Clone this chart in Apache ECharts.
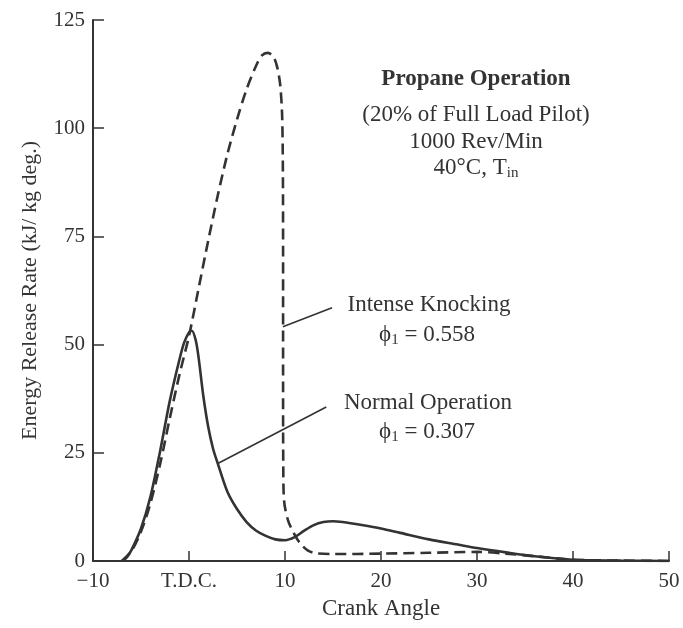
<!DOCTYPE html>
<html>
<head>
<meta charset="utf-8">
<script src="https://cdn.jsdelivr.net/npm/echarts@6/dist/echarts.min.js"></script>
<style>
html,body{margin:0;padding:0;background:#fff;}
#chart{width:683px;height:628px;}
</style>
</head>
<body>
<div id="chart"></div>
<script>
// ---- data ----
const xTicks = [-10, 0, 10, 20, 30, 40, 50];
const yTicks = [0, 25, 50, 75, 100, 125];

const normalX = [-7, -6.5, -6, -5, -4, -3, -2, -1, -0.5, 0, 0.3, 0.7, 1, 1.5, 2, 2.5, 3, 4, 5, 6, 7, 8, 9, 10, 11, 12, 13, 14, 15, 16, 18, 20, 22, 25, 28, 30, 33, 36, 40, 45, 50];
const normalY = [0, 0.8, 2.5, 7.5, 15, 25.5, 37, 46.5, 50.5, 52.8, 53.2, 51, 47, 38, 31, 26, 22.5, 16, 12, 9, 7, 5.8, 5, 4.8, 5.5, 7, 8.3, 9, 9.2, 9, 8.3, 7.5, 6.5, 5, 3.8, 3, 2, 1.1, 0.3, 0.1, 0];

const knockX = [-7, -6, -5, -4, -3, -2, -1, 0, 1, 2, 3, 4, 5, 6, 7, 7.6, 8.2, 8.8, 9.2, 9.5, 9.7, 9.78, 9.8, 9.8, 9.82, 9.9, 10.3, 10.9, 11.6, 12.4, 13.2, 15, 20, 25, 30, 33, 36, 40, 45, 50];
const knockY = [0, 2.3, 6.8, 13.5, 22.5, 33, 43, 52, 63, 74, 84.5, 94, 102, 109, 114.5, 116.8, 117.4, 116.5, 114, 110, 103, 90, 70, 40, 22, 14, 9.5, 6.5, 4, 2.4, 1.8, 1.6, 1.7, 1.9, 2.1, 1.7, 1.1, 0.3, 0.1, 0];

// leader lines (data coordinates)
const knockLeaderX = [9.78, 14.9];
const knockLeaderY = [54.1, 58.5];
const normalLeaderX = [3.05, 14.3];
const normalLeaderY = [22.6, 35.6];

const FONT = '"Liberation Serif", "DejaVu Serif", serif';
const INK = '#333';
const FS = 23;

function pairs(xs, ys){ return xs.map((x,i)=>[x, ys[i]]); }

const chart = echarts.init(document.getElementById('chart'));
const subRich = {
  a: {fontFamily: FONT, fontSize: FS, fill: INK, color: INK, lineHeight: 26},
  s: {fontFamily: FONT, fontSize: 15, fill: INK, color: INK, lineHeight: 11, verticalAlign: 'bottom'}
};
function txt(x, y, s, bold){
  return {type: 'text', x: x, y: y, style: {text: s, fontFamily: FONT, fontSize: FS, fontWeight: bold ? 'bold' : 'normal', fill: INK, align: 'center', verticalAlign: 'middle'}};
}
function rtxt(x, y, s){
  return {type: 'text', x: x, y: y, style: {text: s, rich: subRich, fill: INK, align: 'center', verticalAlign: 'middle'}};
}

chart.setOption({
  animation: false,
  backgroundColor: '#fff',
  grid: {left: 93, right: 14, top: 20, bottom: 67},
  xAxis: {
    type: 'value', min: -10, max: 50, interval: 10,
    name: 'Crank Angle', nameLocation: 'middle', nameGap: 36,
    nameTextStyle: {fontFamily: FONT, fontSize: FS, color: INK},
    axisLine: {onZero: false, lineStyle: {color: INK, width: 2}},
    axisTick: {inside: true, length: 10, lineStyle: {color: INK, width: 1.5}},
    axisLabel: {fontFamily: FONT, fontSize: 21, color: INK, margin: 10,
      formatter: v => v === 0 ? 'T.D.C.' : (v < 0 ? '\u2212' + Math.abs(v) : String(v))},
    splitLine: {show: false}
  },
  yAxis: {
    type: 'value', min: 0, max: 125, interval: 25,
    name: 'Energy Release Rate (kJ/ kg deg.)', nameLocation: 'middle', nameGap: 52,
    nameTextStyle: {fontFamily: FONT, fontSize: 22, color: INK},
    axisLine: {show: true, onZero: false, lineStyle: {color: INK, width: 2}},
    axisTick: {show: true, inside: true, length: 11, lineStyle: {color: INK, width: 1.5}},
    axisLabel: {fontFamily: FONT, fontSize: 21, color: INK, margin: 8},
    splitLine: {show: false}
  },
  series: [
    {type: 'line', name: 'Normal Operation', data: pairs(normalX, normalY), showSymbol: false, smooth: 0.3,
      lineStyle: {color: INK, width: 2.6}, z: 3},
    {type: 'line', name: 'Intense Knocking', data: pairs(knockX, knockY), showSymbol: false, smooth: 0.3,
      lineStyle: {color: INK, width: 2.6, type: [11, 6]}, z: 2},
    {type: 'line', data: pairs(knockLeaderX, knockLeaderY), showSymbol: false,
      lineStyle: {color: INK, width: 1.6}, silent: true},
    {type: 'line', data: pairs(normalLeaderX, normalLeaderY), showSymbol: false,
      lineStyle: {color: INK, width: 1.6}, silent: true}
  ],
  graphic: [
    txt(476, 79, 'Propane Operation', true),
    txt(476, 115, '(20% of Full Load Pilot)'),
    txt(476, 142, '1000 Rev/Min'),
    rtxt(476, 168, '{a|40°C, T}{s|in}'),
    txt(429, 305, 'Intense Knocking'),
    rtxt(427, 335, '{a|\u03d5}{s|1}{a| = 0.558}'),
    txt(428, 403, 'Normal Operation'),
    rtxt(427, 432, '{a|\u03d5}{s|1}{a| = 0.307}')
  ]
});
</script>
</body>
</html>
